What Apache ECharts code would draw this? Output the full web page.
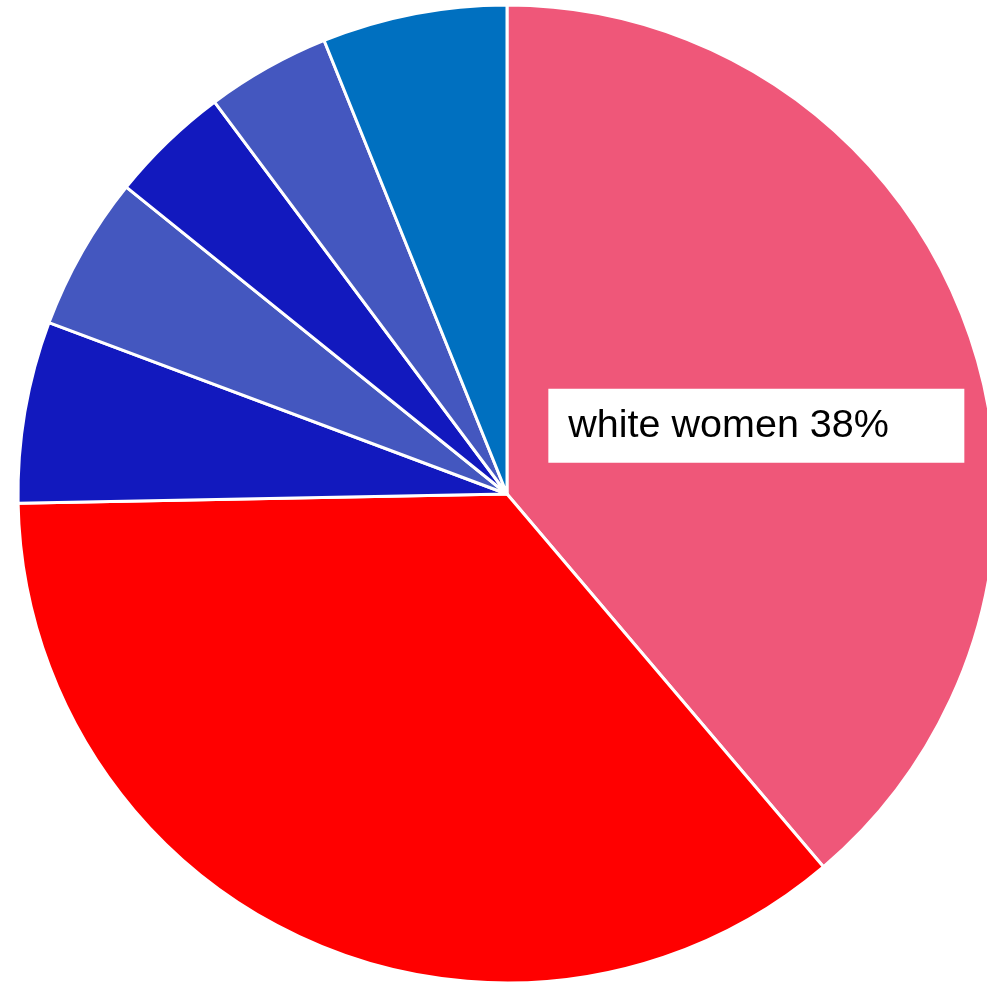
<!DOCTYPE html>
<html>
<head>
<meta charset="utf-8">
<script src="https://cdn.jsdelivr.net/npm/echarts@6/dist/echarts.min.js"></script>
<style>
html,body{margin:0;padding:0;background:#fff;}
#c{width:987px;height:989px;}
</style>
</head>
<body>
<div id="c"></div>
<script>
var categories = ['white women', 'white men', 'group 3', 'group 4', 'group 5', 'group 6', 'group 7'];
var values = [38.8, 35.9, 6.0, 5.1, 4.0, 4.1, 6.1];
var colors = ['#EF5779', '#FF0000', '#1219BE', '#4457BF', '#1219BE', '#4457BF', '#0070C0'];
var labelTexts = ['white women 38%', '', '', '', '', '', ''];

var chart = echarts.init(document.getElementById('c'));
var data = categories.map(function (n, i) {
  var d = { name: n, value: values[i], itemStyle: { color: colors[i] } };
  if (labelTexts[i]) {
    d.label = {
      show: true,
      position: 'inside',
      formatter: '{t|' + labelTexts[i] + '}',
      backgroundColor: '#fff',
      padding: [18, 0, 18, 20],
      rich: {
        t: {
          fontFamily: 'Liberation Sans',
          fontSize: 39.5,
          color: '#000',
          width: 396,
          align: 'left',
          lineHeight: 38
        }
      }
    };
  } else {
    d.label = { show: false };
  }
  return d;
});

chart.setOption({
  animation: false,
  series: [{
    type: 'pie',
    center: [507, 494],
    radius: 489,
    startAngle: 90,
    clockwise: true,
    avoidLabelOverlap: false,
    labelLine: { show: false },
    itemStyle: { borderColor: '#fff', borderWidth: 3 },
    emphasis: { disabled: true },
    labelLayout: function (p) {
      if (p.dataIndex === 0) return { dx: 17, dy: 17 };
      return {};
    },
    data: data
  }]
});
</script>
</body>
</html>
